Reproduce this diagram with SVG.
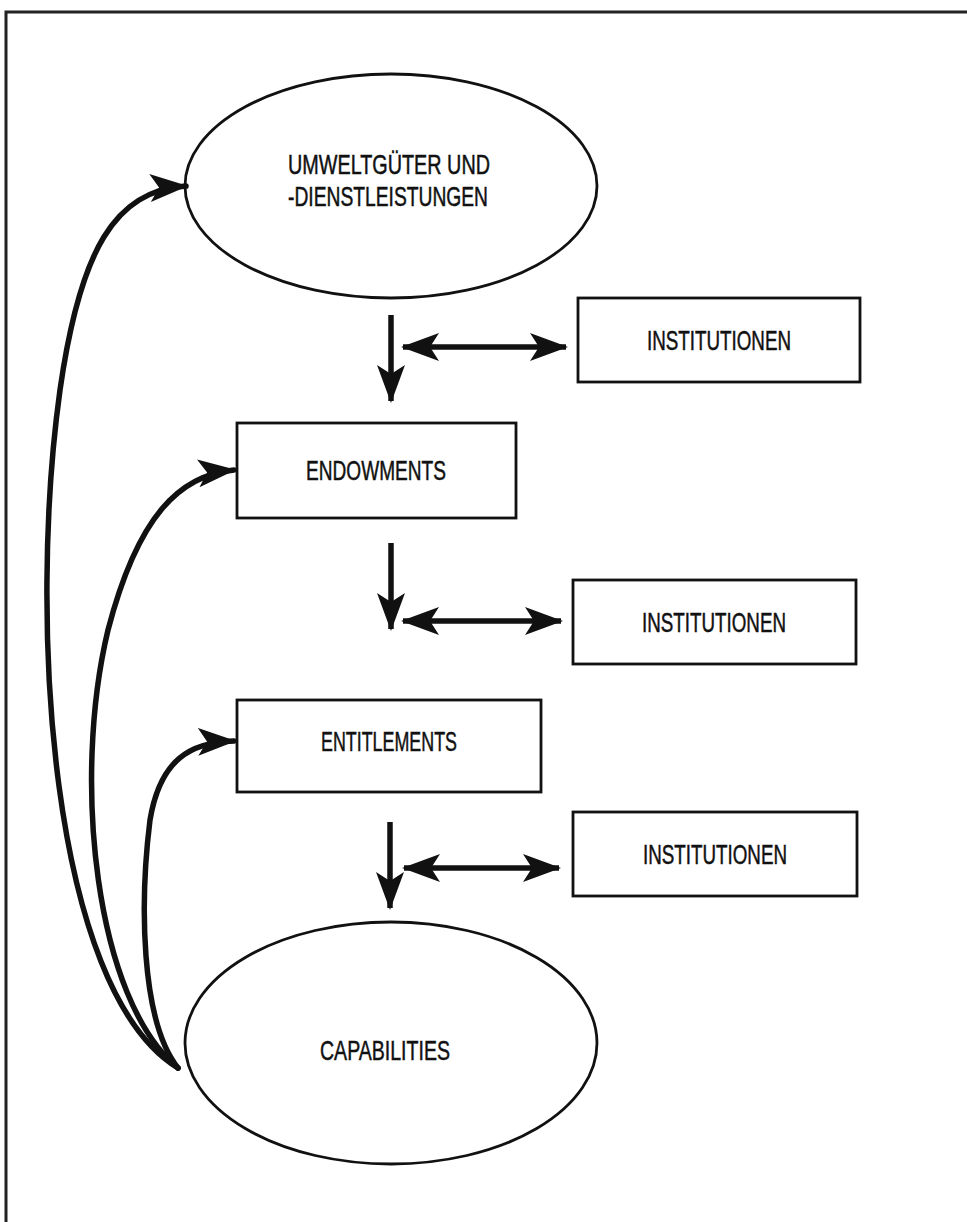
<svg xmlns="http://www.w3.org/2000/svg" width="967" height="1222" viewBox="0 0 967 1222">
<defs>
<style>
.box{fill:#fff;stroke:#111;stroke-width:2.8}
.ell{fill:#fff;stroke:#111;stroke-width:2.8}
.lbl{font-family:"Liberation Sans",Arial,sans-serif;font-size:28px;fill:#111;stroke:#111;stroke-width:0.5}
.arr{fill:none;stroke:#111;stroke-width:5.5}
.cur{fill:none;stroke:#111;stroke-width:5.5;stroke-linecap:round}
</style>
<marker id="ah" markerUnits="userSpaceOnUse" viewBox="0 0 38 28" refX="36" refY="14" markerWidth="38" markerHeight="28" orient="auto-start-reverse">
<path d="M0,0 L38,14 L0,28 L9,14 z" fill="#111"/>
</marker>
</defs>
<rect width="967" height="1222" fill="#fff"/>
<g id="frame">
<path d="M6,1222 L6,12 L967,12" fill="none" stroke="#222" stroke-width="3"/>
</g>
<g id="umwelt">
<ellipse class="ell" cx="391" cy="186" rx="206" ry="112"/>
<text class="lbl" x="288" y="174" textLength="202" lengthAdjust="spacingAndGlyphs">UMWELTGÜTER UND</text>
<text class="lbl" x="288" y="206" textLength="200" lengthAdjust="spacingAndGlyphs">-DIENSTLEISTUNGEN</text>
</g>
<g id="inst1">
<rect class="box" x="578" y="298" width="282" height="84"/>
<text class="lbl" x="719" y="350" text-anchor="middle" textLength="144" lengthAdjust="spacingAndGlyphs">INSTITUTIONEN</text>
</g>
<g id="endowments">
<rect class="box" x="237" y="423" width="279" height="95"/>
<text class="lbl" x="376" y="480" text-anchor="middle" textLength="140" lengthAdjust="spacingAndGlyphs">ENDOWMENTS</text>
</g>
<g id="inst2">
<rect class="box" x="573" y="580" width="283" height="84"/>
<text class="lbl" x="714" y="632" text-anchor="middle" textLength="144" lengthAdjust="spacingAndGlyphs">INSTITUTIONEN</text>
</g>
<g id="entitlements">
<rect class="box" x="237" y="700" width="304" height="92"/>
<text class="lbl" x="389" y="751" text-anchor="middle" textLength="136" lengthAdjust="spacingAndGlyphs">ENTITLEMENTS</text>
</g>
<g id="inst3">
<rect class="box" x="573" y="812" width="284" height="84"/>
<text class="lbl" x="715" y="864" text-anchor="middle" textLength="144" lengthAdjust="spacingAndGlyphs">INSTITUTIONEN</text>
</g>
<g id="capabilities">
<ellipse class="ell" cx="391" cy="1043" rx="206" ry="121"/>
<text class="lbl" x="385" y="1060" text-anchor="middle" textLength="130" lengthAdjust="spacingAndGlyphs">CAPABILITIES</text>
</g>
<g id="connectors">
<path class="arr" d="M391,315 L391,401" marker-end="url(#ah)"/>
<path class="arr" d="M403,347 L566,347" marker-start="url(#ah)" marker-end="url(#ah)"/>
<path class="arr" d="M391,543 L391,629" marker-end="url(#ah)"/>
<path class="arr" d="M403,621 L561,621" marker-start="url(#ah)" marker-end="url(#ah)"/>
<path class="arr" d="M390,822 L390,908" marker-end="url(#ah)"/>
<path class="arr" d="M404,868 L559,868" marker-start="url(#ah)" marker-end="url(#ah)"/>
<path class="cur" d="M178,1068 C 50,990 28,620 60,390 C 80,250 115,190 186,186" marker-end="url(#ah)"/>
<path class="cur" d="M178,1068 C 95,1000 72,780 108,630 C 138,515 180,475 234,470" marker-end="url(#ah)"/>
<path class="cur" d="M178,1068 C 140,1020 140,900 150,820 C 160,760 190,742 234,741" marker-end="url(#ah)"/>
</g>
</svg>
